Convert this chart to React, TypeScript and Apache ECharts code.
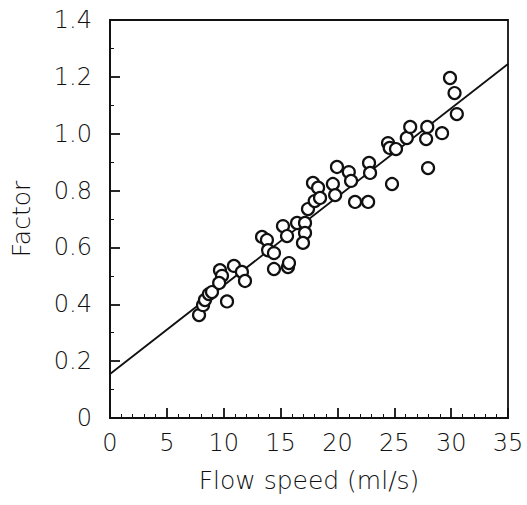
import React, { useEffect, useRef } from "react";
import * as echarts from "echarts";

const flowSpeed = [
  7.83, 8.18, 8.35, 8.7, 8.97, 9.67, 9.85, 9.6, 10.29, 10.9, 11.6, 11.87,
  13.37, 13.8, 13.9, 14.42, 14.42, 15.65, 15.74, 15.21, 15.57, 16.45, 17.15, 17.15,
  16.97, 17.41, 17.85, 18.3, 18.0, 18.47, 19.6, 19.8, 19.96, 21.0, 21.2, 21.55,
  22.7, 22.78, 22.87, 24.8, 24.45, 24.6, 25.15, 26.1, 26.4, 27.8, 27.9, 27.97,
  29.2, 29.9, 30.3, 30.5,
];
const factor = [
  0.362, 0.397, 0.415, 0.436, 0.443, 0.52, 0.5, 0.475, 0.41, 0.535, 0.514, 0.482,
  0.637, 0.626, 0.59, 0.58, 0.524, 0.531, 0.545, 0.675, 0.64, 0.686, 0.686, 0.651,
  0.616, 0.735, 0.827, 0.81, 0.763, 0.774, 0.823, 0.784, 0.883, 0.865, 0.834, 0.76,
  0.76, 0.897, 0.862, 0.823, 0.967, 0.95, 0.946, 0.985, 1.024, 0.981, 1.024, 0.879,
  1.002, 1.196, 1.143, 1.069,
];
const fitX = [0, 35];
const fitY = [0.155, 1.245];

const FONT = "'DejaVu Sans', sans-serif";
const FW = 200;
const INK = "#111";

export default function App() {
  const ref = useRef<HTMLDivElement>(null);
  useEffect(() => {
    if (!ref.current) return;
    const chart = echarts.init(ref.current, undefined, { renderer: "svg" });
    chart.setOption({
      animation: false,
      grid: {
        left: 110,
        top: 20,
        right: 19,
        bottom: 87,
        show: true,
        borderColor: INK,
        borderWidth: 1.8,
        backgroundColor: "transparent",
      },
      xAxis: {
        type: "value",
        min: 0,
        max: 35,
        interval: 5,
        name: "Flow speed (ml/s)",
        nameLocation: "middle",
        nameGap: 50,
        nameTextStyle: { fontFamily: FONT, fontWeight: FW, fontSize: 25, color: INK },
        axisLine: { show: true, lineStyle: { color: INK, width: 1.8 } },
        axisTick: { show: true, inside: true, length: 10, lineStyle: { color: INK, width: 1.8 } },
        minorTick: { show: true, splitNumber: 5, length: 4, lineStyle: { color: INK, width: 1 } },
        splitLine: { show: false },
        axisLabel: { fontFamily: FONT, fontWeight: FW, fontSize: 24, color: INK, margin: 13 },
      },
      yAxis: {
        type: "value",
        min: 0,
        max: 1.4,
        interval: 0.2,
        name: "Factor",
        nameLocation: "middle",
        nameGap: 76,
        nameTextStyle: { fontFamily: FONT, fontWeight: FW, fontSize: 25, color: INK },
        axisLine: { show: true, lineStyle: { color: INK, width: 1.8 } },
        axisTick: { show: true, inside: true, length: 10, lineStyle: { color: INK, width: 1.8 } },
        minorTick: { show: true, splitNumber: 2, length: 4, lineStyle: { color: INK, width: 1 } },
        splitLine: { show: false },
        axisLabel: {
          fontFamily: FONT,
          fontWeight: FW,
          fontSize: 24,
          color: INK,
          margin: 18,
          formatter: (v: number) => (v === 0 ? "0" : v.toFixed(1)),
        },
      },
      series: [
        {
          type: "line",
          data: fitX.map((x, i) => [x, fitY[i]]),
          symbol: "none",
          lineStyle: { color: INK, width: 1.8 },
          z: 1,
        },
        {
          type: "scatter",
          data: flowSpeed.map((x, i) => [x, factor[i]]),
          symbol: "circle",
          symbolSize: 12,
          itemStyle: { color: "#fff", borderColor: "#111", borderWidth: 2.2, opacity: 1 },
          emphasis: { disabled: true },
          z: 2,
        },
      ],
    });
    return () => chart.dispose();
  }, []);
  return (
    <div
      ref={ref}
      style={{ position: "absolute", left: 0, top: 0, width: 527, height: 505 }}
    />
  );
}
